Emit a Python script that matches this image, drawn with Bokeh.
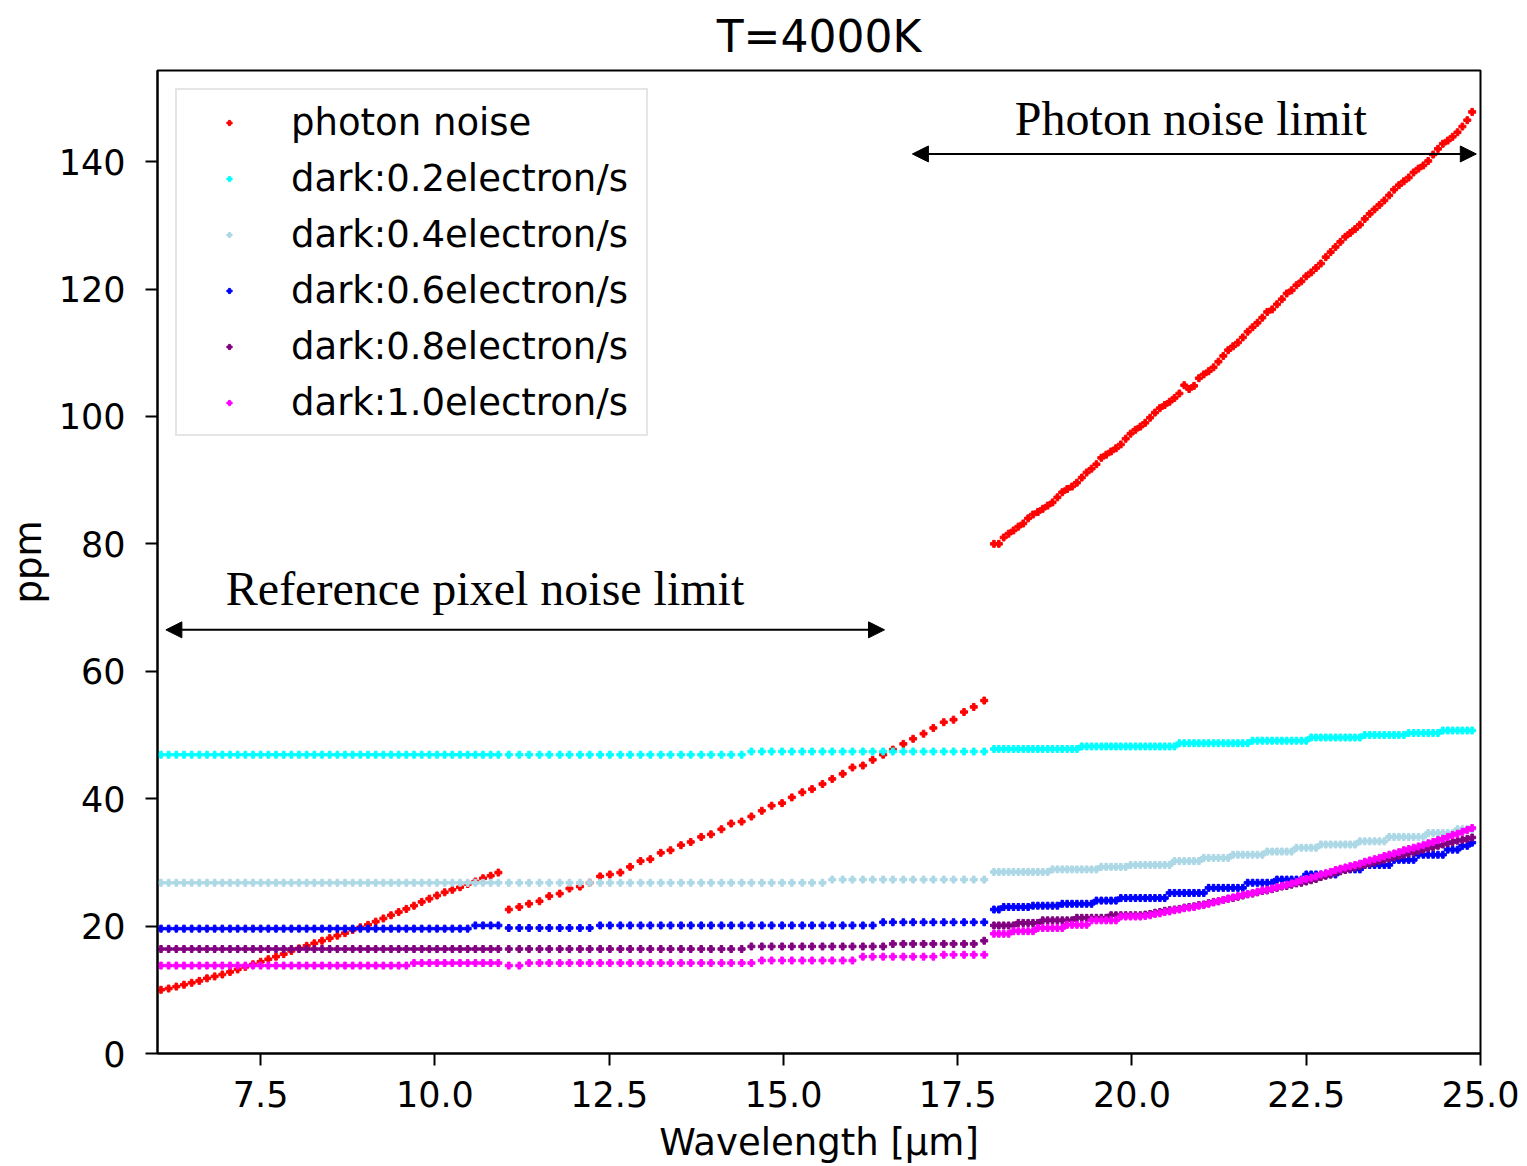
from bokeh.plotting import figure
from bokeh.models import Range1d, FixedTicker, PrintfTickFormatter, Arrow, NormalHead, Label
from bokeh.embed import file_html
from bokeh.resources import INLINE

# ---------------- data ----------------
# wavelength grid [um]: three channels 6-11, 11-18, 18-25 um
wavelength = [
    6.07, 6.18, 6.29, 6.40, 6.51, 6.62, 6.73, 6.84, 6.95, 7.06,
    7.17, 7.28, 7.39, 7.50, 7.61, 7.72, 7.83, 7.94, 8.05, 8.16,
    8.27, 8.38, 8.49, 8.60, 8.71, 8.82, 8.93, 9.04, 9.15, 9.26,
    9.37, 9.48, 9.59, 9.70, 9.81, 9.92, 10.03, 10.14, 10.25, 10.36,
    10.47, 10.58, 10.69, 10.80, 10.91,
    11.06, 11.21, 11.35, 11.50, 11.64, 11.79, 11.93, 12.08, 12.22, 12.37,
    12.51, 12.66, 12.80, 12.95, 13.09, 13.24, 13.38, 13.53, 13.67, 13.82,
    13.96, 14.11, 14.25, 14.40, 14.54, 14.69, 14.83, 14.98, 15.12, 15.27,
    15.41, 15.56, 15.70, 15.85, 15.99, 16.14, 16.28, 16.43, 16.57, 16.72,
    16.86, 17.01, 17.15, 17.30, 17.44, 17.59, 17.73, 17.88,
    18.02, 18.09, 18.16, 18.23, 18.30, 18.37, 18.44, 18.51, 18.58, 18.65,
    18.72, 18.79, 18.86, 18.93, 19.00, 19.07, 19.14, 19.21, 19.28, 19.35,
    19.42, 19.49, 19.56, 19.63, 19.70, 19.77, 19.84, 19.91, 19.98, 20.05,
    20.12, 20.19, 20.26, 20.33, 20.40, 20.47, 20.54, 20.61, 20.68, 20.75,
    20.82, 20.89, 20.96, 21.03, 21.10, 21.17, 21.24, 21.31, 21.38, 21.45,
    21.52, 21.59, 21.66, 21.73, 21.80, 21.87, 21.94, 22.01, 22.08, 22.15,
    22.22, 22.29, 22.36, 22.43, 22.50, 22.57, 22.64, 22.71, 22.78, 22.85,
    22.92, 22.99, 23.06, 23.13, 23.20, 23.27, 23.34, 23.41, 23.48, 23.55,
    23.62, 23.69, 23.76, 23.83, 23.90, 23.97, 24.04, 24.11, 24.18, 24.25,
    24.32, 24.39, 24.46, 24.53, 24.60, 24.67, 24.74, 24.81, 24.88,
]

photon_noise = [
    10.0, 10.2, 10.5, 10.8, 11.1, 11.4, 11.8, 12.1, 12.4, 12.8,
    13.2, 13.6, 14.0, 14.4, 14.8, 15.2, 15.6, 16.1, 16.5, 16.9,
    17.3, 17.7, 18.1, 18.5, 18.9, 19.4, 19.8, 20.2, 20.7, 21.2,
    21.7, 22.2, 22.7, 23.2, 23.8, 24.3, 24.8, 25.3, 25.7, 26.1,
    26.6, 27.0, 27.5, 27.9, 28.4,
    22.6, 23.0, 23.5, 23.9, 24.7, 25.1, 25.9, 26.2, 26.8, 27.8,
    28.1, 28.4, 29.3, 30.2, 30.5, 31.5, 31.9, 32.7, 33.2, 34.0,
    34.4, 35.2, 36.1, 36.4, 37.2, 38.1, 38.9, 39.3, 40.2, 41.0,
    41.5, 42.3, 43.1, 43.9, 44.9, 45.2, 46.1, 46.9, 47.7, 48.6,
    49.4, 50.2, 51.1, 52.0, 52.4, 53.6, 54.4, 55.4,
    80.0, 80.0, 81.0, 81.6, 82.1, 82.7, 83.2, 84.0, 84.6, 85.0,
    85.5, 86.0, 86.5, 87.3, 88.1, 88.6, 89.0, 89.6, 90.4, 91.2,
    91.8, 92.5, 93.5, 94.0, 94.5, 95.0, 95.6, 96.5, 97.3, 97.9,
    98.4, 99.0, 99.8, 100.6, 101.3, 101.8, 102.3, 102.9, 103.6, 104.9,
    104.3, 104.8, 106.0, 106.6, 107.1, 107.7, 108.6, 109.5, 110.4, 111.0,
    111.6, 112.4, 113.3, 114.0, 114.7, 115.5, 116.4, 116.8, 117.6, 118.4,
    119.3, 119.8, 120.6, 121.2, 122.0, 122.6, 123.3, 124.0, 125.0, 125.8,
    126.6, 127.4, 128.2, 128.8, 129.4, 130.1, 131.0, 131.8, 132.5, 133.2,
    133.9, 134.7, 135.6, 136.3, 136.9, 137.5, 138.3, 138.9, 139.4, 140.1,
    141.1, 142.0, 142.8, 143.3, 143.9, 144.6, 145.5, 146.5, 147.8,
]

dark_02 = [
    46.9, 46.9, 46.9, 46.9, 46.9, 46.9, 46.9, 46.9, 46.9, 46.9,
    46.9, 46.9, 46.9, 46.9, 46.9, 46.9, 46.9, 46.9, 46.9, 46.9,
    46.9, 46.9, 46.9, 46.9, 46.9, 46.9, 46.9, 46.9, 46.9, 46.9,
    46.9, 46.9, 46.9, 46.9, 46.9, 46.9, 46.9, 46.9, 46.9, 46.9,
    46.9, 46.9, 46.9, 46.9, 46.9,
    46.9, 46.9, 46.9, 46.9, 46.9, 46.9, 46.9, 46.9, 46.9, 46.9,
    46.9, 46.9, 46.9, 46.9, 46.9, 46.9, 46.9, 46.9, 46.9, 46.9,
    46.9, 46.9, 46.9, 46.9, 47.4, 47.4, 47.4, 47.4, 47.4, 47.4,
    47.4, 47.4, 47.4, 47.4, 47.4, 47.4, 47.4, 47.4, 47.4, 47.4,
    47.4, 47.4, 47.4, 47.4, 47.4, 47.4, 47.4, 47.4,
    47.8, 47.8, 47.8, 47.8, 47.8, 47.8, 47.8, 47.8, 47.8, 47.8,
    47.8, 47.8, 47.8, 47.8, 47.8, 47.8, 47.8, 47.8, 48.2, 48.2,
    48.2, 48.2, 48.2, 48.2, 48.2, 48.2, 48.2, 48.2, 48.2, 48.2,
    48.2, 48.2, 48.2, 48.2, 48.2, 48.2, 48.2, 48.2, 48.7, 48.7,
    48.7, 48.7, 48.7, 48.7, 48.7, 48.7, 48.7, 48.7, 48.7, 48.7,
    48.7, 48.7, 48.7, 49.1, 49.1, 49.1, 49.1, 49.1, 49.1, 49.1,
    49.1, 49.1, 49.1, 49.1, 49.1, 49.6, 49.6, 49.6, 49.6, 49.6,
    49.6, 49.6, 49.6, 49.6, 49.6, 49.6, 50.0, 50.0, 50.0, 50.0,
    50.0, 50.0, 50.0, 50.0, 50.0, 50.3, 50.3, 50.3, 50.3, 50.3,
    50.3, 50.3, 50.7, 50.7, 50.7, 50.7, 50.7, 50.7, 50.7,
]

dark_04 = [
    26.8, 26.8, 26.8, 26.8, 26.8, 26.8, 26.8, 26.8, 26.8, 26.8,
    26.8, 26.8, 26.8, 26.8, 26.8, 26.8, 26.8, 26.8, 26.8, 26.8,
    26.8, 26.8, 26.8, 26.8, 26.8, 26.8, 26.8, 26.8, 26.8, 26.8,
    26.8, 26.8, 26.8, 26.8, 26.8, 26.8, 26.8, 26.8, 26.8, 26.8,
    26.8, 26.8, 26.8, 26.8, 26.8,
    26.8, 26.8, 26.8, 26.8, 26.8, 26.8, 26.8, 26.8, 26.8, 26.8,
    26.8, 26.8, 26.8, 26.8, 26.8, 26.8, 26.8, 26.8, 26.8, 26.8,
    26.8, 26.8, 26.8, 26.8, 26.8, 26.8, 26.8, 26.8, 26.8, 26.8,
    26.8, 26.8, 27.3, 27.3, 27.3, 27.3, 27.3, 27.3, 27.3, 27.3,
    27.3, 27.3, 27.3, 27.3, 27.3, 27.3, 27.3, 27.3,
    28.5, 28.5, 28.5, 28.5, 28.5, 28.5, 28.5, 28.5, 28.5, 28.5,
    28.5, 28.5, 28.9, 28.9, 28.9, 28.9, 28.9, 28.9, 28.9, 28.9,
    28.9, 28.9, 29.3, 29.3, 29.3, 29.3, 29.3, 29.3, 29.6, 29.6,
    29.6, 29.6, 29.6, 29.6, 29.6, 29.6, 29.6, 30.2, 30.2, 30.2,
    30.2, 30.2, 30.2, 30.7, 30.7, 30.7, 30.7, 30.7, 30.7, 31.2,
    31.2, 31.2, 31.2, 31.2, 31.2, 31.2, 31.7, 31.7, 31.7, 31.7,
    31.7, 31.7, 32.3, 32.3, 32.3, 32.3, 32.3, 32.8, 32.8, 32.8,
    32.8, 32.8, 32.8, 32.8, 32.8, 33.3, 33.3, 33.3, 33.3, 33.3,
    33.3, 34.0, 34.0, 34.0, 34.0, 34.0, 34.0, 34.0, 34.0, 34.6,
    34.6, 34.6, 34.6, 34.6, 34.6, 35.2, 35.2, 35.2, 35.2,
]

dark_06 = [
    19.6, 19.6, 19.6, 19.6, 19.6, 19.6, 19.6, 19.6, 19.6, 19.6,
    19.6, 19.6, 19.6, 19.6, 19.6, 19.6, 19.6, 19.6, 19.6, 19.6,
    19.6, 19.6, 19.6, 19.6, 19.6, 19.6, 19.6, 19.6, 19.6, 19.6,
    19.6, 19.6, 19.6, 19.6, 19.6, 19.6, 19.6, 19.6, 19.6, 19.6,
    19.6, 20.1, 20.1, 20.1, 20.1,
    19.7, 19.7, 19.7, 19.7, 19.7, 19.7, 19.7, 19.7, 19.7, 20.1,
    20.1, 20.1, 20.1, 20.1, 20.1, 20.1, 20.1, 20.1, 20.1, 20.1,
    20.1, 20.1, 20.1, 20.1, 20.1, 20.1, 20.1, 20.1, 20.1, 20.1,
    20.1, 20.1, 20.1, 20.1, 20.1, 20.1, 20.1, 20.6, 20.6, 20.6,
    20.6, 20.6, 20.6, 20.6, 20.6, 20.6, 20.6, 20.6,
    22.6, 22.6, 23.0, 23.0, 23.0, 23.0, 23.0, 23.0, 23.2, 23.2,
    23.2, 23.2, 23.2, 23.2, 23.5, 23.5, 23.5, 23.5, 23.5, 23.5,
    23.5, 24.0, 24.0, 24.0, 24.0, 24.0, 24.4, 24.4, 24.4, 24.4,
    24.4, 24.4, 24.4, 24.4, 24.4, 24.4, 25.2, 25.2, 25.2, 25.2,
    25.2, 25.2, 25.2, 25.2, 26.0, 26.0, 26.0, 26.0, 26.0, 26.0,
    26.0, 26.0, 26.8, 26.8, 26.8, 26.8, 26.8, 26.8, 27.3, 27.3,
    27.3, 27.3, 27.3, 27.3, 28.1, 28.1, 28.1, 28.1, 28.1, 28.1,
    28.1, 28.9, 28.9, 28.9, 28.9, 28.9, 29.6, 29.6, 29.6, 29.6,
    29.6, 29.6, 30.4, 30.4, 30.4, 30.4, 30.4, 31.2, 31.2, 31.2,
    31.2, 31.2, 31.2, 32.0, 32.0, 32.0, 32.6, 32.6, 33.1,
]

dark_08 = [
    16.4, 16.4, 16.4, 16.4, 16.4, 16.4, 16.4, 16.4, 16.4, 16.4,
    16.4, 16.4, 16.4, 16.4, 16.4, 16.4, 16.4, 16.4, 16.4, 16.4,
    16.4, 16.4, 16.4, 16.4, 16.4, 16.4, 16.4, 16.4, 16.4, 16.4,
    16.4, 16.4, 16.4, 16.4, 16.4, 16.4, 16.4, 16.4, 16.4, 16.4,
    16.4, 16.4, 16.4, 16.4, 16.4,
    16.4, 16.4, 16.4, 16.4, 16.4, 16.4, 16.4, 16.4, 16.4, 16.4,
    16.4, 16.4, 16.4, 16.4, 16.4, 16.4, 16.4, 16.4, 16.4, 16.4,
    16.4, 16.4, 16.4, 16.4, 16.8, 16.8, 16.8, 16.8, 16.8, 16.8,
    16.8, 16.8, 16.8, 16.8, 16.8, 16.8, 16.8, 16.8, 17.2, 17.2,
    17.2, 17.2, 17.2, 17.2, 17.2, 17.2, 17.2, 17.7,
    20.1, 20.1, 20.1, 20.1, 20.1, 20.5, 20.5, 20.5, 20.5, 20.5,
    20.9, 20.9, 20.9, 20.9, 20.9, 20.9, 20.9, 21.3, 21.3, 21.3,
    21.3, 21.3, 21.3, 21.3, 21.7, 21.7, 21.7, 21.7, 21.7, 21.7,
    21.7, 21.8, 21.9, 22.1, 22.2, 22.4, 22.5, 22.6, 22.7, 22.9,
    23.0, 23.1, 23.3, 23.4, 23.6, 23.8, 23.9, 24.1, 24.3, 24.4,
    24.6, 24.8, 25.0, 25.1, 25.3, 25.5, 25.6, 25.8, 26.0, 26.2,
    26.3, 26.5, 26.7, 26.8, 27.0, 27.2, 27.4, 27.7, 27.9, 28.1,
    28.4, 28.6, 28.8, 29.0, 29.2, 29.4, 29.6, 29.8, 30.0, 30.2,
    30.4, 30.6, 30.8, 31.0, 31.2, 31.4, 31.6, 31.8, 32.0, 32.2,
    32.4, 32.6, 32.8, 33.0, 33.2, 33.4, 33.5, 33.7, 33.9,
]

dark_10 = [
    13.8, 13.8, 13.8, 13.8, 13.8, 13.8, 13.8, 13.8, 13.8, 13.8,
    13.8, 13.8, 13.8, 13.8, 13.8, 13.8, 13.8, 13.8, 13.8, 13.8,
    13.8, 13.8, 13.8, 13.8, 13.8, 13.8, 13.8, 13.8, 13.8, 13.8,
    13.8, 13.8, 13.8, 14.2, 14.2, 14.2, 14.2, 14.2, 14.2, 14.2,
    14.2, 14.2, 14.2, 14.2, 14.2,
    13.8, 13.8, 14.2, 14.2, 14.2, 14.2, 14.2, 14.2, 14.2, 14.2,
    14.2, 14.2, 14.2, 14.2, 14.2, 14.2, 14.2, 14.2, 14.2, 14.2,
    14.2, 14.2, 14.2, 14.2, 14.2, 14.6, 14.6, 14.6, 14.6, 14.6,
    14.6, 14.6, 14.6, 14.6, 14.6, 15.2, 15.2, 15.2, 15.2, 15.2,
    15.2, 15.2, 15.2, 15.5, 15.5, 15.5, 15.5, 15.5,
    18.8, 18.8, 18.8, 18.8, 19.2, 19.2, 19.2, 19.2, 19.2, 19.7,
    19.7, 19.7, 19.7, 19.7, 19.7, 20.2, 20.2, 20.2, 20.2, 20.2,
    20.9, 20.9, 20.9, 20.9, 20.9, 20.9, 21.5, 21.5, 21.5, 21.5,
    21.5, 21.6, 21.7, 21.9, 22.0, 22.2, 22.3, 22.5, 22.6, 22.8,
    22.9, 23.0, 23.2, 23.3, 23.5, 23.7, 23.9, 24.1, 24.3, 24.5,
    24.7, 24.9, 25.0, 25.2, 25.4, 25.6, 25.7, 25.9, 26.1, 26.3,
    26.5, 26.7, 26.9, 27.2, 27.4, 27.6, 27.8, 28.1, 28.3, 28.5,
    28.8, 29.0, 29.2, 29.4, 29.6, 29.8, 30.1, 30.3, 30.5, 30.7,
    31.0, 31.2, 31.4, 31.6, 31.9, 32.1, 32.3, 32.5, 32.7, 33.0,
    33.2, 33.5, 33.7, 34.0, 34.3, 34.5, 34.8, 35.1, 35.4,
]

series_labels = ["photon noise", "dark:0.2electron/s", "dark:0.4electron/s",
                 "dark:0.6electron/s", "dark:0.8electron/s", "dark:1.0electron/s"]
series_values = [photon_noise, dark_02, dark_04, dark_06, dark_08, dark_10]
series_colors = ["#ff0000", "#00ffff", "#add8e6", "#0000ff", "#800080", "#ff00ff"]

x_ticks = [7.5, 10.0, 12.5, 15.0, 17.5, 20.0, 22.5, 25.0]
y_ticks = [0, 20, 40, 60, 80, 100, 120, 140]

# ---------------- figure ----------------
FONT = "DejaVu Sans"
p = figure(width=1527, height=1166, output_backend="svg", toolbar_location=None,
           x_range=Range1d(6.02, 25.0), y_range=Range1d(0, 154.3),
           min_border_left=157, min_border_right=47, min_border_top=70,
           min_border_bottom=112, background_fill_color="white",
           border_fill_color="white")

p.title.text = "T=4000K"
p.title.align = "center"
p.title.text_font = FONT
p.title.text_font_size = "44px"
p.title.text_font_style = "normal"
p.title.text_color = "black"
p.title.standoff = 17

p.xgrid.visible = False
p.ygrid.visible = False
p.outline_line_color = "black"
p.outline_line_width = 2

for ax in (p.xaxis[0], p.yaxis[0]):
    ax.axis_line_width = 2
    ax.major_tick_line_width = 2
    ax.major_tick_out = 12
    ax.major_tick_in = 0
    ax.minor_tick_out = 0
    ax.minor_tick_in = 0
    ax.major_label_text_font = FONT
    ax.major_label_text_font_size = "35px"
    ax.major_label_text_color = "black"
    ax.axis_label_text_font = FONT
    ax.axis_label_text_font_size = "37px"
    ax.axis_label_text_font_style = "normal"
    ax.axis_label_text_color = "black"

p.xaxis.ticker = FixedTicker(ticks=x_ticks)
p.xaxis.formatter = PrintfTickFormatter(format="%.1f")
p.yaxis.ticker = FixedTicker(ticks=y_ticks)
p.yaxis.formatter = PrintfTickFormatter(format="%d")
p.xaxis.axis_label = "Wavelength [µm]"
p.yaxis.axis_label = "ppm"
p.xaxis.major_label_standoff = 15
p.yaxis.major_label_standoff = 20
p.xaxis.axis_label_standoff = 11
p.yaxis.axis_label_standoff = 6

for lbl, vals, col in zip(series_labels, series_values, series_colors):
    p.scatter(wavelength, vals, marker="plus", size=7, color=col, legend_label=lbl)

lg = p.legend[0]
lg.location = "top_left"
lg.margin = 18
lg.padding = 4
lg.spacing = 0
lg.glyph_width = 96
lg.glyph_height = 13
lg.label_height = 56
lg.label_width = 351
lg.label_standoff = 14
lg.label_text_font = FONT
lg.label_text_font_size = "37px"
lg.label_text_color = "black"
lg.border_line_color = "#cccccc"
lg.border_line_width = 2
lg.background_fill_alpha = 0.8

# annotations
for xs, xe, yy in ((16.85, 24.94, 141.2), (6.14, 16.45, 66.5)):
    p.add_layout(Arrow(x_start=xs, y_start=yy, x_end=xe, y_end=yy, line_width=2,
                       line_color="black",
                       start=NormalHead(size=16, fill_color="black", line_color="black"),
                       end=NormalHead(size=16, fill_color="black", line_color="black")))

p.add_layout(Label(x=18.32, y=146.8, text="Photon noise limit",
                   text_font="Liberation Serif", text_font_size="48px",
                   text_color="black", text_baseline="alphabetic"))
p.add_layout(Label(x=7.0, y=73.0, text="Reference pixel noise limit",
                   text_font="Liberation Serif", text_font_size="48px",
                   text_color="black", text_baseline="alphabetic"))

open("out.html", "w").write(file_html(p, INLINE))
